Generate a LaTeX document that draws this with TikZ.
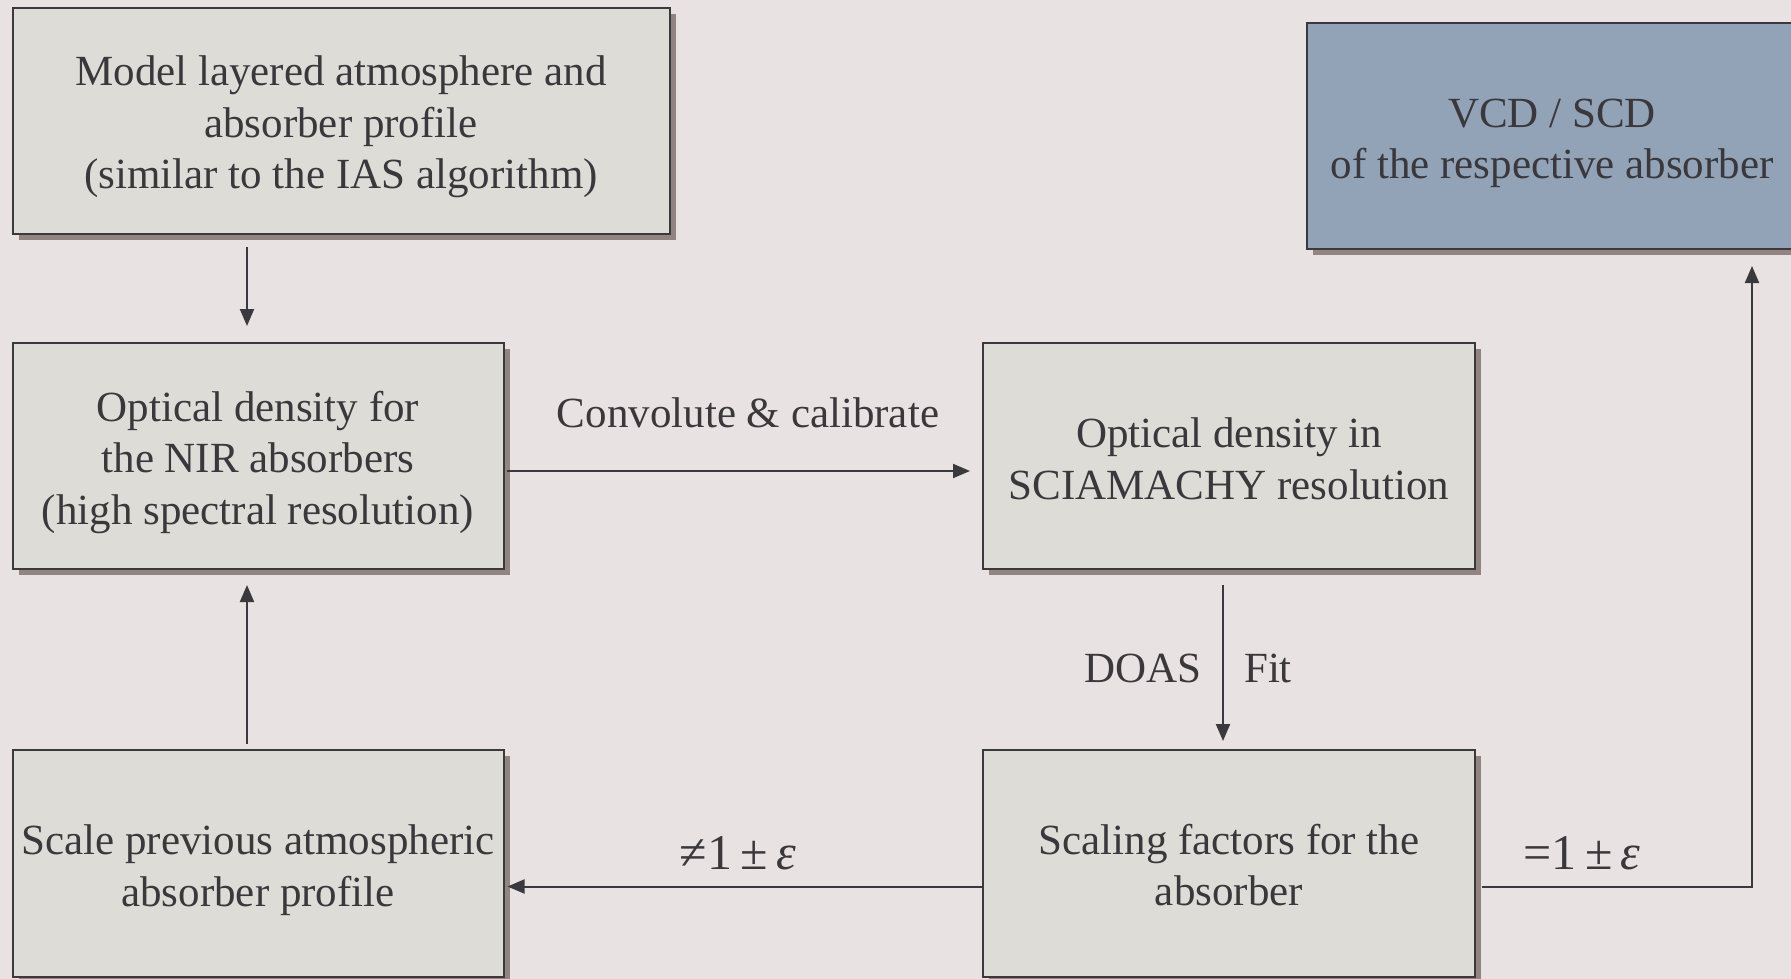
\documentclass[tikz,border=0pt]{standalone}
\usepackage{fontspec}
\setmainfont{Liberation Serif}
\usetikzlibrary{arrows.meta,shadows}
\definecolor{bg}{HTML}{E8E3E2}
\definecolor{boxfill}{HTML}{DEDCD7}
\definecolor{shadowc}{HTML}{928480}
\definecolor{linec}{HTML}{3A393D}
\definecolor{bluefill}{HTML}{92A2B7}
\definecolor{textc}{HTML}{3A383C}
\newcommand\myst[1]{\rule{0pt}{#1}}
\begin{document}
\begin{tikzpicture}[x=1pt,y=-1pt,
 box/.style={draw=linec, line width=2pt, fill=boxfill, align=center, inner sep=0pt,
   minimum height=226pt, text=textc, font=\fontsize{43}{51.5}\selectfont,
   drop shadow={shadow xshift=6pt, shadow yshift=-6pt, fill=shadowc, opacity=1}},
 arr/.style={draw=linec, line width=2pt, -{Triangle[length=17pt,width=14pt]}},
 lbl/.style={text=textc, font=\fontsize{43}{51.5}\selectfont, inner sep=0pt},
 mlbl/.style={text=textc, font=\fontsize{50}{56}\selectfont, inner sep=0pt}]
\fill[bg] (0,0) rectangle (1791,979);
\useasboundingbox (0,0) rectangle (1791,979);
\node[box, minimum width=657pt] (model) at (341,121) {\myst{42pt}Model layered atmosphere and\\absorber profile\\(similar to the IAS algorithm)};
\node[box, fill=bluefill, minimum width=490pt] (vcd) at (1552,136) {\myst{43pt}VCD / SCD\\of the respective absorber};
\node[box, minimum width=491pt] (nir) at (258,456) {\myst{43pt}Optical density for\\the NIR absorbers\\(high spectral resolution)};
\node[box, minimum width=492pt] (scia) at (1229,456) {\myst{35pt}Optical density in\\SCIAMACHY resolution};
\node[box, minimum width=491pt, minimum height=227pt] (prev) at (258,863.5) {\myst{43pt}Scale previous atmospheric\\absorber profile};
\node[box, minimum width=492pt, minimum height=227pt] (scal) at (1229,863.5) {\myst{33pt}Scaling factors for the\\absorber};
\draw[arr] ([xshift=-94pt,yshift=-12pt]model.south) -- ([xshift=-11pt,yshift=16pt]nir.north);
\draw[arr] ([xshift=2pt,yshift=-15pt]nir.east) -- ([xshift=-12pt,yshift=-15pt]scia.west);
\draw[arr] ([xshift=-6pt,yshift=-15pt]scia.south) -- ([xshift=-6pt,yshift=8pt]scal.north);
\draw[arr] ([yshift=-23pt]scal.west) -- ([xshift=3pt,yshift=-23pt]prev.east);
\draw[arr] ([xshift=-11pt,yshift=5pt]prev.north) -- ([xshift=-11pt,yshift=-15pt]nir.south);
\draw[arr] ([xshift=6pt,yshift=-23pt]scal.east) -| ([xshift=200pt,yshift=-16pt]vcd.south);
\node[lbl] (conv) at (748,413) {Convolute \& calibrate};
\node[lbl] (doas) at (1143,668) {DOAS};
\node[lbl] (fit) at (1268,668) {Fit};
\node[mlbl] (ne) at (738,853) {≠1\,±\,\textit{ε}};
\node[mlbl] (eq) at (1582,853) {=1\,±\,\textit{ε}};
\end{tikzpicture}
\end{document}
